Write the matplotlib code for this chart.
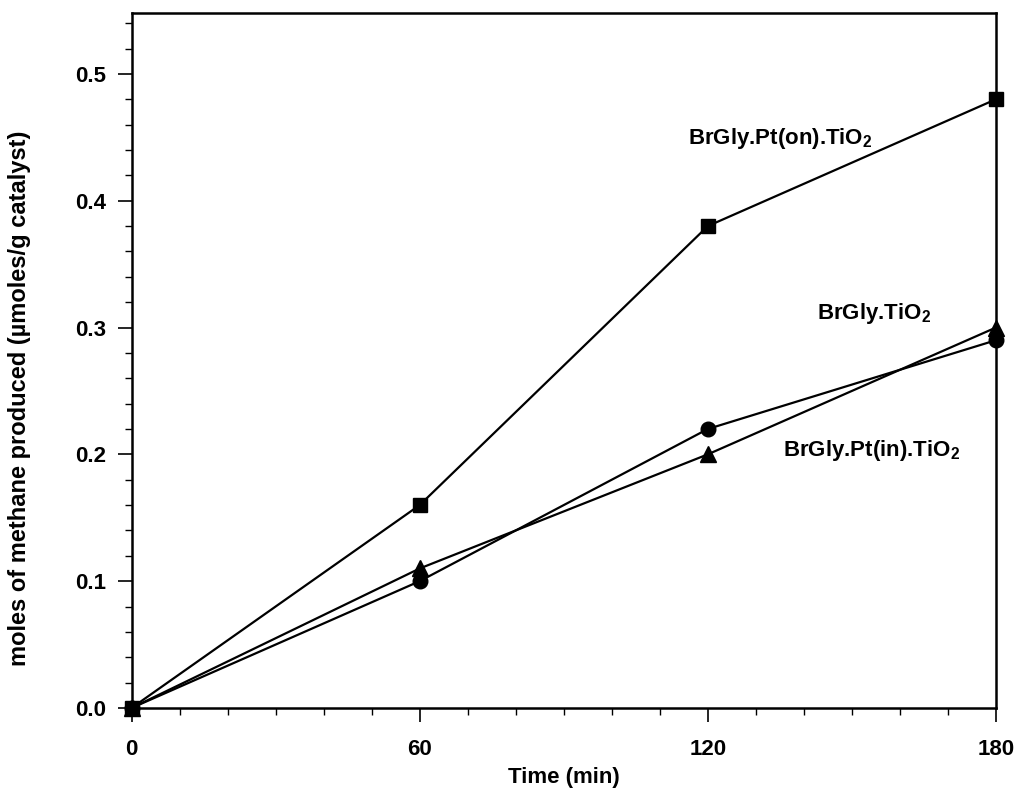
import matplotlib
matplotlib.use('Agg')
import matplotlib.pyplot as plt
from matplotlib.ticker import MultipleLocator

plt.rcParams['font.family'] = ['Liberation Sans', 'DejaVu Sans']
plt.rcParams['font.weight'] = 'bold'
plt.rcParams['mathtext.fontset'] = 'custom'
plt.rcParams['mathtext.rm'] = 'Liberation Sans:bold'
plt.rcParams['mathtext.default'] = 'rm'

# time points (min)
time = [0, 60, 120, 180]
# methane produced (umoles/g catalyst)
pt_on = [0.0, 0.16, 0.38, 0.48]
bare = [0.0, 0.10, 0.22, 0.29]
pt_in = [0.0, 0.11, 0.20, 0.30]

series_labels = [r'BrGly.Pt(on).TiO$_2$', r'BrGly.TiO$_2$', r'BrGly.Pt(in).TiO$_2$']
label_pos = [(115.9, 0.445), (142.7, 0.307), (135.6, 0.199)]

fig = plt.figure(figsize=(10.16, 7.89), dpi=100)
ax = fig.add_axes([0.1295, 0.1027, 0.9803 - 0.1295, 0.9835 - 0.1027])

ax.plot(time, pt_on, '-', marker='s', color='k', lw=1.6, ms=10.5, clip_on=False, zorder=3)
ax.plot(time, bare, '-', marker='o', color='k', lw=1.6, ms=10.5, clip_on=False, zorder=3)
ax.plot(time, pt_in, '-', marker='^', color='k', lw=1.6, ms=11.5, clip_on=False, zorder=3)

for lab, (lx, ly) in zip(series_labels, label_pos):
	ax.text(lx, ly, lab, fontsize=16, fontweight='bold', ha='left', va='baseline')

ax.set_xlim(0, 180)
ax.set_ylim(0, 0.548)
ax.set_xticks([0, 60, 120, 180])
ax.set_yticks([0.0, 0.1, 0.2, 0.3, 0.4, 0.5])
ax.set_yticklabels(['0.0', '0.1', '0.2', '0.3', '0.4', '0.5'])
ax.xaxis.set_minor_locator(MultipleLocator(10))
ax.yaxis.set_minor_locator(MultipleLocator(0.02))

ax.tick_params(which='major', direction='out', length=10, width=1.2, labelsize=16)
ax.tick_params(which='minor', direction='out', length=5, width=1.0)
ax.tick_params(axis='x', which='major', pad=12)
ax.tick_params(axis='y', which='major', pad=8)
for s in ax.spines.values():
	s.set_linewidth(1.8)

# x label placed by hand so it sits right at the bottom edge like the original
fig.text((0.1295 + 0.9803) / 2, 1 - 783 / 789, 'Time (min)', fontsize=16, fontweight='bold',
	ha='center', va='baseline')
fig.text(0.019, 1 - 398 / 789, 'moles of methane produced (\u00b5moles/g catalyst)',
	rotation=90, fontsize=17, fontweight='bold', ha='center', va='center')

fig.savefig('out.png', dpi=100)
